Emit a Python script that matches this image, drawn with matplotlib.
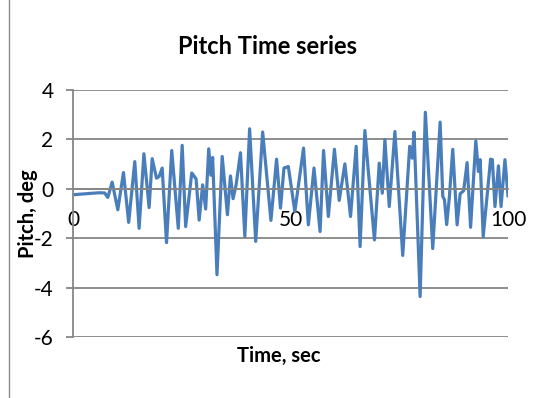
import matplotlib
matplotlib.use('Agg')
import matplotlib.pyplot as plt
from matplotlib.patches import Rectangle

# pitch time series (peaks and troughs)
time_s = [0, 1.5, 3, 4.5, 6, 7.3, 8.0, 9.0, 10.3, 11.6, 12.8, 14.2, 15.2, 16.3, 17.5,
          18.2, 19.2, 19.8, 20.5, 21.5, 22.7, 24.2, 25.1, 25.9, 27.3, 28.3, 29.0,
          29.8, 30.5, 31.2, 31.7, 32.1, 33.1, 34.3, 35.5, 36.2, 36.8, 37.5, 38.5,
          39.5, 40.6, 42.0, 43.6, 45.5, 46.8, 47.7, 48.5, 49.5, 51.0, 53.0, 54.1,
          55.4, 56.8, 57.6, 58.7, 60.1, 61.2, 62.5, 63.8, 65.1, 66.0, 67.1, 67.8,
          69.3, 70.4, 71.1, 71.7, 72.7, 74.0, 75.8, 77.4, 78.0, 78.4, 79.8, 81.0,
          82.7, 84.4, 85.0, 85.4, 85.9, 86.5, 87.3, 88.3, 89.0, 89.8, 90.6, 91.4,
          92.6, 93.2, 93.6, 94.3, 96.0, 96.4, 97.0, 97.8, 98.4, 99.3, 100.0]
pitch_deg = [-0.24, -0.22, -0.2, -0.18, -0.16, -0.17, -0.35, 0.27, -0.85, 0.66, -1.36,
             1.1, -1.6, 1.42, -0.76, 1.22, 0.43, 0.5, 0.84, -2.18, 1.55, -1.6, 1.76,
             -1.53, 0.64, 0.4, -1.27, 0.16, -0.82, 1.62, 0.55, 1.27, -3.48, 1.31,
             -1.05, 0.52, -0.4, 0.16, 1.46, -1.93, 2.43, -2.13, 2.3, -1.28, 1.2,
             -0.78, 0.84, 0.9, -0.92, 1.65, -1.46, 0.84, -1.73, 1.55, -1.12, 1.6,
             -0.47, 1.01, -1.12, 1.72, -2.34, 2.36, 0.9, -2.07, 1.04, -0.18, 1.99,
             -0.72, 2.32, -2.7, 1.72, 1.24, 2.3, -4.36, 3.1, -2.42, 2.7, -0.3, -0.45,
             -1.45, -0.38, 1.6, -1.46, -0.2, -0.08, 1.06, -1.56, 1.94, 0.7, 1.18,
             -1.93, 1.2, 1.18, -0.72, 0.93, -0.72, 1.18, -0.3]

yticks = [-6, -4, -2, 0, 2, 4]
xticks = [0, 50, 100]

plt.rcParams['font.family'] = ['Lato', 'DejaVu Sans']
plt.rcParams['axes.unicode_minus'] = False

fig = plt.figure(figsize=(5.45, 3.98), dpi=100)
ax = fig.add_axes([73/545, 1-337/398, 435/545, 247/398])

grid_c = '#868686'
ax.plot(time_s, pitch_deg, color='#4a7ebb', lw=2.3, solid_joinstyle='round',
        solid_capstyle='round')

ax.set_xlim(0, 100)
ax.set_ylim(-6, 4)
ax.set_yticks(yticks)
ax.set_xticks(xticks)
ax.yaxis.grid(True, color=grid_c, lw=1.3)
ax.set_axisbelow(True)

for s in ['top', 'right']:
    ax.spines[s].set_visible(False)
ax.spines['left'].set_color(grid_c)
ax.spines['left'].set_linewidth(1.3)
ax.spines['bottom'].set_position(('data', 0))
ax.spines['bottom'].set_color(grid_c)
ax.spines['bottom'].set_linewidth(1.3)

ax.tick_params(axis='y', length=5, width=1.3, color=grid_c, labelsize=15, pad=9)
ax.tick_params(axis='x', length=0, labelsize=15, pad=15)

fig.text(267/545, 1-46/398, 'Pitch Time series', ha='center', va='center',
         fontsize=17, fontweight='bold')
fig.text(279/545, 1-356/398, 'Time, sec', ha='center', va='center',
         fontsize=14.5, fontweight='bold')
fig.text(28/545, 1-214/398, 'Pitch, deg', ha='center', va='center',
         rotation=90, fontsize=14.5, fontweight='bold')

fig.add_artist(Rectangle((8.5/545, -0.2), 1.2, 1.2+1-7.5/398, fill=False,
                         edgecolor='#8c8c8c', lw=1, transform=fig.transFigure))

fig.savefig('out.png', dpi=100)
